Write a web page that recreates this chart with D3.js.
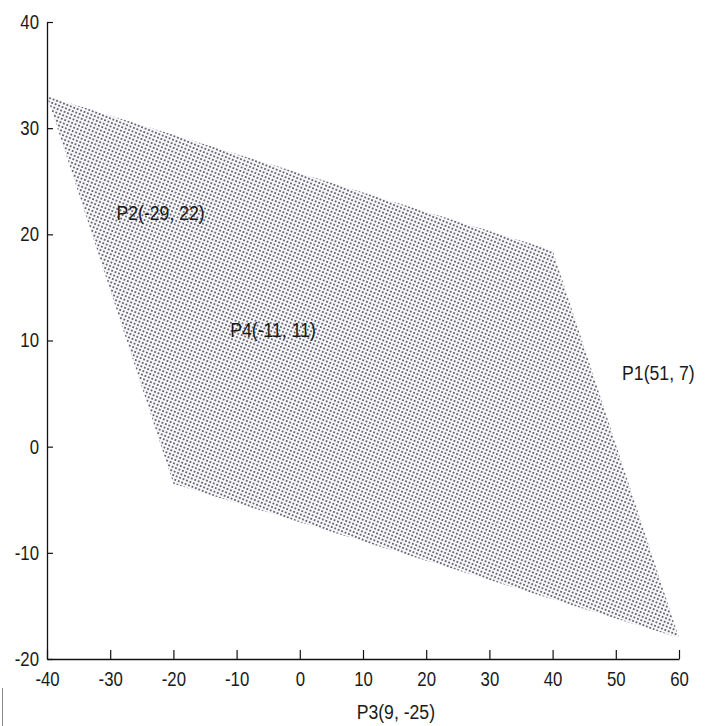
<!DOCTYPE html>
<html>
<head>
<meta charset="utf-8">
<script src="https://cdn.jsdelivr.net/npm/d3@7"></script>
<style>
  html, body { margin: 0; padding: 0; background: #fff; }
  svg { display: block; }
  text { font-family: "Liberation Sans Narrow", "Arial Narrow", "Liberation Sans", Arial, sans-serif; fill: #1a1a1a; }
</style>
</head>
<body>
<svg id="chart" width="707" height="726"></svg>
<script>
// ---- data ----
const xTicks = [-40, -30, -20, -10, 0, 10, 20, 30, 40, 50, 60];
const yTicks = [-20, -10, 0, 10, 20, 30, 40];
const regionX = [-40, 40, 60, -20];
const regionY = [33, 18.5, -18, -3.5];
const labelNames = ["P1(51, 7)", "P2(-29, 22)", "P3(9, -25)", "P4(-11, 11)"];
const labelX = [51, -29, 9, -11];
const labelY = [7, 22, -25, 11];

// ---- chart ----
const svg = d3.select("#chart");
const x = d3.scaleLinear().domain([-40, 60]).range([47, 679]);
const y = d3.scaleLinear().domain([-20, 40]).range([659, 22]);
const SX = 0.84; // horizontal squeeze to mimic narrow font
const fmt = d => String(d);

// dot pattern fill
const defs = svg.append("defs");
const pat = defs.append("pattern")
  .attr("id", "dots")
  .attr("patternUnits", "userSpaceOnUse")
  .attr("width", 3.7).attr("height", 3.7)
  .attr("patternTransform", "rotate(22)");
pat.append("rect").attr("width", 3.7).attr("height", 3.7).attr("fill", "#f7f7f9");
pat.append("circle").attr("cx", 1.85).attr("cy", 1.85).attr("r", 0.85).attr("fill", "#262838");

const pts = regionX.map((d, i) => [x(d), y(regionY[i])]);
svg.append("path")
  .attr("d", d3.line()(pts) + "Z")
  .attr("fill", "url(#dots)")
  .attr("stroke", "none");

// axes
const xAxis = d3.axisBottom(x).tickValues(xTicks).tickSizeInner(-9).tickSizeOuter(0).tickPadding(13)
  .tickFormat(fmt);
const gx = svg.append("g").attr("transform", `translate(0,${y(-20)})`).call(xAxis);
gx.select(".domain").attr("stroke", "#111").attr("stroke-width", 1.3);
gx.selectAll(".tick line").attr("stroke", "#111").attr("stroke-width", 1.2);
gx.selectAll(".tick text").attr("font-size", 20).attr("fill", "#1a1a1a")
  .attr("font-family", "'Liberation Sans Narrow', 'Arial Narrow', 'Liberation Sans', sans-serif")
  .attr("transform", `scale(${SX},1)`);

const yAxis = d3.axisLeft(y).tickValues(yTicks).tickSizeInner(-6).tickSizeOuter(0).tickPadding(8)
  .tickFormat(fmt);
const gy = svg.append("g").attr("transform", `translate(${x(-40)},0)`).call(yAxis);
gy.select(".domain").attr("stroke", "#111").attr("stroke-width", 1.3);
gy.selectAll(".tick line").attr("stroke", "#111").attr("stroke-width", 1.2);
gy.selectAll(".tick text").attr("font-size", 20).attr("fill", "#1a1a1a")
  .attr("font-family", "'Liberation Sans Narrow', 'Arial Narrow', 'Liberation Sans', sans-serif")
  .attr("x", -8 / SX)
  .attr("transform", `scale(${SX},1)`);

// point labels
const lg = svg.append("g").selectAll("g")
  .data(labelNames)
  .join("g")
  .attr("transform", (d, i) => `translate(${x(labelX[i])},${y(labelY[i])}) scale(${SX},1)`);
lg.append("text")
  .attr("dy", "0.35em")
  .attr("text-anchor", "start")
  .attr("font-size", 21)
  .text(d => d);

// small edge artifact line at bottom-left
svg.append("line").attr("x1", 2.5).attr("x2", 2.5).attr("y1", 688).attr("y2", 726)
  .attr("stroke", "#888").attr("stroke-width", 1);
</script>
</body>
</html>
